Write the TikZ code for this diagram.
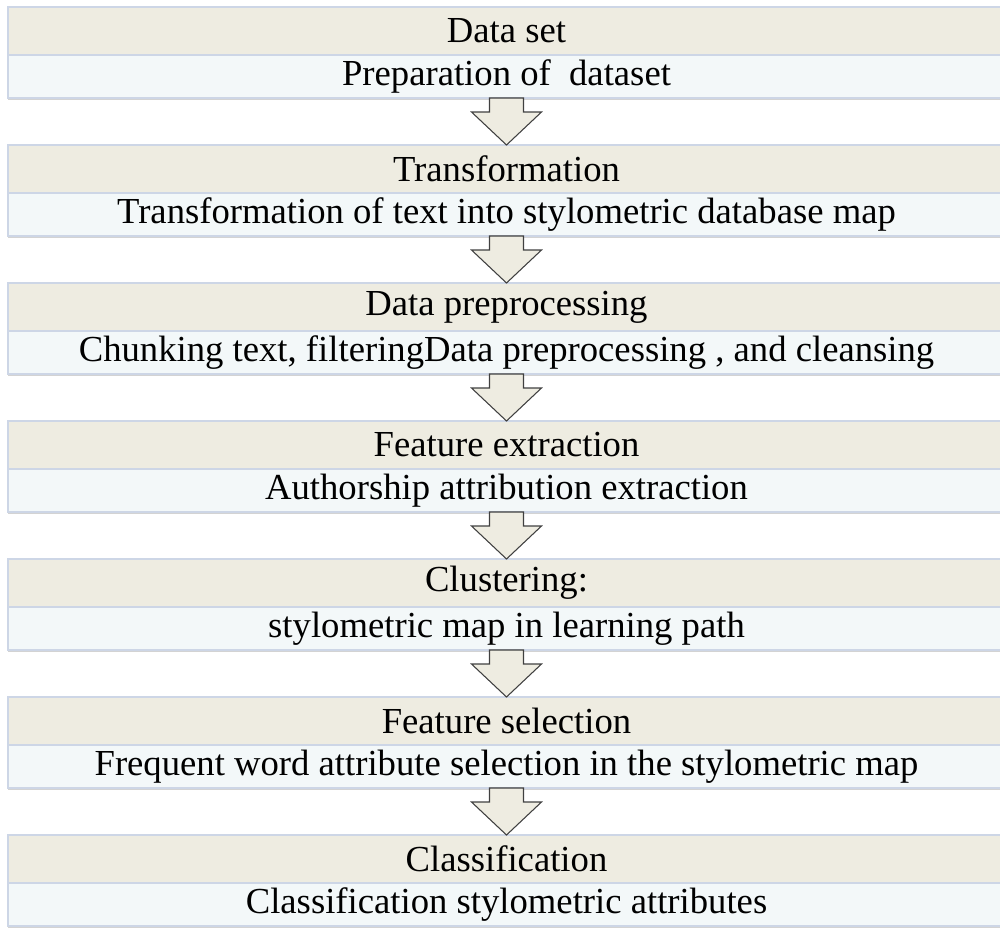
\documentclass[tikz,border=0pt]{standalone}
\usepackage{fontspec}
\setmainfont{Liberation Serif}
\usetikzlibrary{positioning,calc,shadows}

\definecolor{tanband}{HTML}{EEECE1}
\definecolor{paleblue}{HTML}{F3F8F9}
\definecolor{bandline}{HTML}{CDD6E6}
\definecolor{frameline}{HTML}{8C8C8C}

\begin{document}
\begin{tikzpicture}[x=0.75pt,y=-0.75pt,
    title/.style={rectangle,fill=tanband,draw=bandline,line width=0.9pt,
      minimum width=747.75pt,minimum height=36pt,inner sep=0pt,outer sep=0pt,
      font=\fontsize{27.5}{32}\selectfont,
      path picture={\draw[frameline,line width=1.6pt]
        (path picture bounding box.south west) |- (path picture bounding box.north east);}},
    desc/.style={rectangle,fill=paleblue,draw=bandline,line width=0.9pt,
      minimum width=747.75pt,minimum height=32.25pt,inner sep=0pt,outer sep=0pt,
      font=\fontsize{27.5}{32}\selectfont,below=0pt of #1,
      drop shadow={shadow xshift=0pt,shadow yshift=-1.5pt,opacity=0.35},
      path picture={\draw[frameline,line width=1.6pt]
        (path picture bounding box.south west) -- (path picture bounding box.north west);}},
    blockarrow/.style={fill=tanband,draw=black!75,line width=0.8pt,line join=miter}]
  \useasboundingbox (0,0) rectangle (1000,928);

  \node[title] (t1) at (506.5,31) {Data set};
  \node[desc=t1] (d1) {Preparation of \ dataset};
  \node[title] (t2) at (506.5,169) {Transformation};
  \node[desc=t2] (d2) {Transformation of text into stylometric database map};
  \node[title] (t3) at (506.5,307) {Data preprocessing};
  \node[desc=t3] (d3) {Chunking text, filteringData preprocessing , and cleansing};
  \node[title] (t4) at (506.5,445) {Feature extraction};
  \node[desc=t4] (d4) {Authorship attribution extraction};
  \node[title] (t5) at (506.5,583) {Clustering:};
  \node[desc=t5] (d5) {stylometric map in learning path};
  \node[title] (t6) at (506.5,721) {Feature selection};
  \node[desc=t6] (d6) {Frequent word attribute selection in the stylometric map};
  \node[title] (t7) at (506.5,859) {Classification};
  \node[desc=t7] (d7) {Classification stylometric attributes};

  \draw[blockarrow] ($(d1.south)+(-17,0)$) -- ($(d1.south)+(17,0)$) -- ($(d1.south)+(17,14)$)
    -- ($(d1.south)+(35,14)$) -- (t2.north) -- ($(d1.south)+(-35,14)$) -- ($(d1.south)+(-17,14)$) -- cycle;
  \draw[blockarrow] ($(d2.south)+(-17,0)$) -- ($(d2.south)+(17,0)$) -- ($(d2.south)+(17,14)$)
    -- ($(d2.south)+(35,14)$) -- (t3.north) -- ($(d2.south)+(-35,14)$) -- ($(d2.south)+(-17,14)$) -- cycle;
  \draw[blockarrow] ($(d3.south)+(-17,0)$) -- ($(d3.south)+(17,0)$) -- ($(d3.south)+(17,14)$)
    -- ($(d3.south)+(35,14)$) -- (t4.north) -- ($(d3.south)+(-35,14)$) -- ($(d3.south)+(-17,14)$) -- cycle;
  \draw[blockarrow] ($(d4.south)+(-17,0)$) -- ($(d4.south)+(17,0)$) -- ($(d4.south)+(17,14)$)
    -- ($(d4.south)+(35,14)$) -- (t5.north) -- ($(d4.south)+(-35,14)$) -- ($(d4.south)+(-17,14)$) -- cycle;
  \draw[blockarrow] ($(d5.south)+(-17,0)$) -- ($(d5.south)+(17,0)$) -- ($(d5.south)+(17,14)$)
    -- ($(d5.south)+(35,14)$) -- (t6.north) -- ($(d5.south)+(-35,14)$) -- ($(d5.south)+(-17,14)$) -- cycle;
  \draw[blockarrow] ($(d6.south)+(-17,0)$) -- ($(d6.south)+(17,0)$) -- ($(d6.south)+(17,14)$)
    -- ($(d6.south)+(35,14)$) -- (t7.north) -- ($(d6.south)+(-35,14)$) -- ($(d6.south)+(-17,14)$) -- cycle;
\end{tikzpicture}
\end{document}
